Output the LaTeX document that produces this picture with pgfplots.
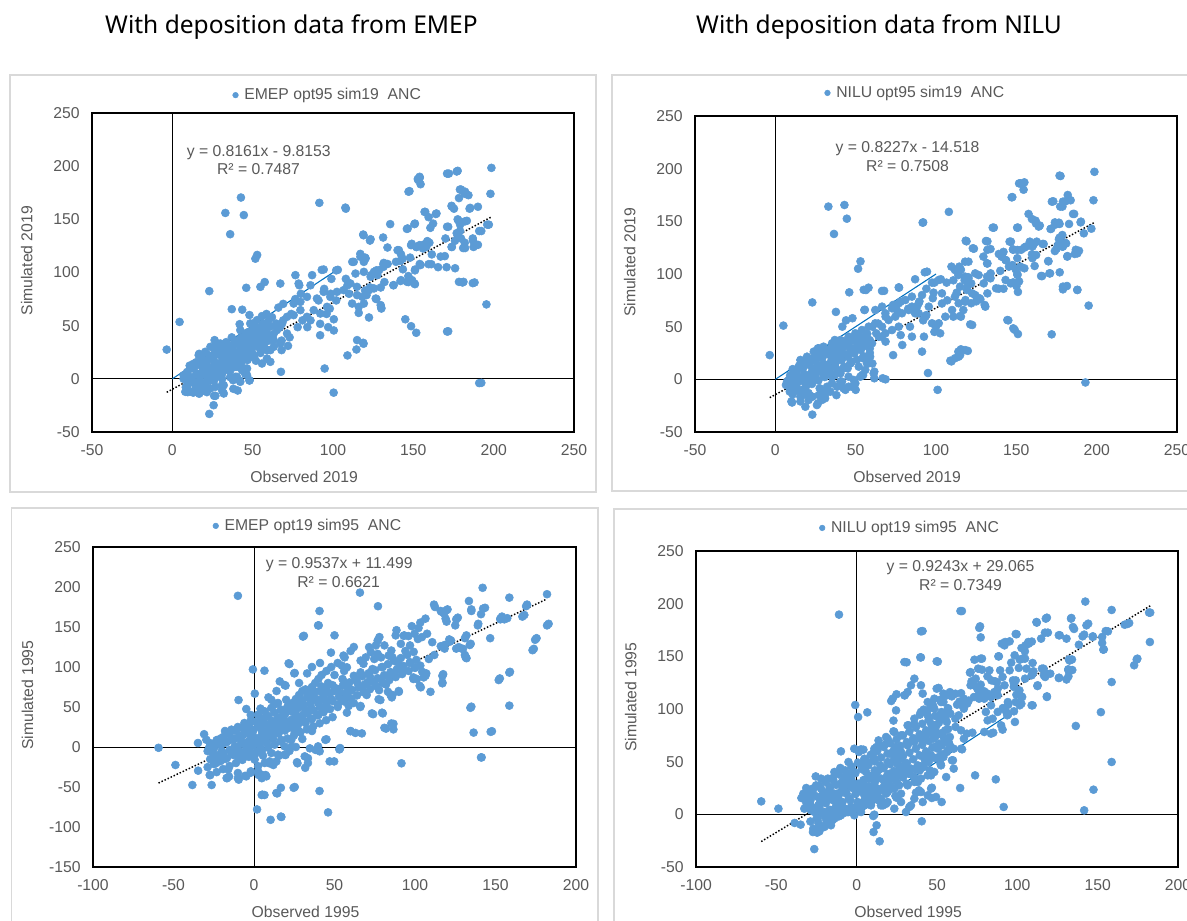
\documentclass[border=0pt]{standalone}
\usepackage{pgfplots}
\pgfplotsset{compat=1.18}
\usepackage{pgfplotstable}
\usepackage{fontspec}
\setmainfont{Liberation Sans}
\newfontfamily\titlefont{Noto Sans}
\definecolor{ptblue}{HTML}{5B9BD5}
\definecolor{oneblue}{HTML}{0070C0}
\definecolor{txtgray}{HTML}{595959}
\definecolor{boxgray}{HTML}{D9D9D9}

\pgfplotstableread{
x y
-3.5 27.5
4.5 53.5
23 82.5
23 -33
33 156
36 136
42.7 170.5
44.5 154
51.7 113
52.8 116.5
37 65.5
43.5 65
41.9 51.4
46 85.6
54.8 86.5
57.5 91
67.2 89.6
76.6 97.5
78.6 89.6
87 97.5
94.2 102.8
102 102
91.5 165.5
107.7 161
55.8 59
67.6 6.6
94.8 9.7
100.4 -13
198.6 198.4
198 174
197 145
192.3 139
195.5 70
192.3 -3.8
177.6 195.6
172.1 193
153.9 190
152.8 188
154.5 183
147.6 176.5
179.7 178
182.2 176
184.3 172.7
178.4 170
185.4 160.8
190.2 161.8
173.8 162.7
175.3 160
157.4 157
159.5 152
164.4 155.5
162.3 146
160.6 142
135.6 145.5
146.5 141.4
150.7 145.5
171.7 143
177.6 150
183.3 148.6
179.1 145
173.8 124
182.2 123
187.5 124
190.2 126
187.1 130
177.6 135
179.1 139
175.9 129.8
179.7 132
169.6 115.4
170.7 105
165.4 105
159.5 107.8
161.2 107.8
154.5 107
151.1 102.8
178.4 91.2
181.2 91.2
188.1 90.6
171.7 44.7
145 56
148.6 49.5
151.8 43.3
115 36.4
118.8 33.9
114.6 27.6
122.4 57.7
118.8 135.7
123.4 131.3
131.2 132.9
133.9 123.5
140.2 121
142.3 117.2
143.4 113
139.2 110
148.6 125.7
151.8 124
153.9 125.7
156 122.6
158.7 129.5
149.2 92.8
150.7 89.7
146.1 91.2
146.9 96.6
142.3 92.8
137.7 88.1
131.4 107.8
128.7 102.2
125.5 100.6
123.8 97.5
117.1 114.7
120.3 113.2
119.2 110
112.9 110
114 99
119.2 100.6
123.4 96
127.6 97.5
131.4 105.3
122.4 83.4
118.2 77.1
120.9 78.7
125.5 85
129.7 85.9
115 78.7
111.9 70.8
116 67.7
119.2 70.8
116 62
126.6 75.5
129.7 69.3
130.1 66.1
108 94
109 88
110 80
103 102.5
99 94
93 102.5
98.6 80
102 73.7
94.5 84.6
86 88
79 88
80 80
76.5 75
91 73.7
96 61
98 66
100.5 56
92 51.7
97 48.6
100.5 45.5
92 41
86 55
84 48.6
81 55
78 48.6
74 61
73 39
72 31
68 36
68 27
63 42
60 36
61 27
61 16
57 33
55 27
50 23.5
52 17
48 60
50 52
51.4 48.6
49 42
60 55
62 58
64.6 52
69 55
67 48.6
66 67
69 70.5
112 110
117 117.5
120 114
119 135
123 130
127 102
131.6 109
134 108
132 91
130 67
127 75
123 86
120 83
8.1 -12.2
9.1 -7.5
13.3 -12.2
14.3 -6
17.4 -12.2
20.5 -7.5
23.7 -9
26.8 -7.5
30.9 -6
32 -13.8
26.8 -16
25.7 -24.8
37.8 -1.3
40.2 1.9
42.3 -2.8
48.1 -1.3
45.4 5
43.4 8
36.1 8
39.2 1.9
30.9 5
23.7 1.9
19.5 5
11.2 1.9
7 3.4
15.4 5
13.3 11.3
17.4 14.4
21.6 11.3
16.4 22.3
23.7 19.1
26.3 28.5
26.3 36.4
29.9 33.2
34 31.7
23.7 30.1
20.5 25.4
27.8 23.8
32 20.7
36.1 22.3
37.1 14.4
40.2 23.8
42.3 27
44.4 33.2
46.5 27
49.6 36.4
47.5 44.2
50.6 49
42.3 45.8
45.4 42.6
48.5 52
52.7 55.2
54.8 45.8
56.8 52
58.9 42.6
61 49
63.1 36.4
65.1 45.8
68.3 52
71.4 58.3
75.5 59.9
79.7 64.6
83.8 58.3
88 64.6
92.1 61.4
96.3 67.7
75.5 70.8
79.7 72.4
83.8 77.1
90 75.5
94.2 81.8
98.3 77.1
102.5 81.8
106.6 83.4
110.8 89.7
114.9 86.5
54.8 33.2
58.9 27
63.1 30.1
67.2 33.2
71.4 42.6
55.8 14.4
58.9 19.1
48.5 20.7
43.4 20.7
40.2 11.3
46.5 9.7
39.2 0.3
46.5 3.4
40.7 -11
38 -9.4
32 -6
31 -11
26 -16
21.5 -12.5
19 -11
16.7 -14
13 -13
9.6 -12.5
8.4 -8
11 -3
7 0
16.7 -4.7
21.5 -1.6
26 -1.6
31 0
36 1.6
16.7 23.5
13 14
11 9.4
19 7.8
24 11
26 17
30 28
27.5 33
33.5 34.5
37 39
36 23.5
38 27
35 16
31 11
29 4.7
42 37.6
45.5 34.5
48 36
52.6 33
54 39
57 42
55 48.6
58.6 61
45.5 30
43 23.5
39.5 20
40.7 16
45.5 9.4
45.5 4.7
48 -1.6
42 -1.6
171 44.5
174 162
179 178
182 174
185 160
196 145
191 -4
187 90
180.6 90.6
176 104
167 115
170 132
171 143
178 149
182 148
191 139
187 132
189 126
182 128
181 123
174 124
177 137
158 124
160 128
161.5 117
156 126
152 124
149 127
148 114
141 121
142 111
143.5 103
151 102
154 108
147 91
151 89
142 92
137.6 88
147 176
151 146
146 141
153 187
154 189
157 157
164 155
171 193
177 195
119 33
109 22
108 160
10.8 -11.6
9.2 -5.6
10.8 0.4
9.2 6.4
10.8 12.4
14.8 -8.4
13.2 -2.4
14.8 3.6
13.2 9.6
14.8 15.6
18.8 -5.1
17.2 0.9
18.8 6.9
17.2 12.9
18.8 18.9
22.8 -1.9
21.2 4.1
22.8 10.1
21.2 16.1
22.8 22.1
26.8 1.4
25.2 7.4
26.8 13.4
25.2 19.4
26.8 25.4
30.8 4.7
29.2 10.7
30.8 16.7
29.2 22.7
30.8 28.7
34.8 7.9
33.2 13.9
34.8 19.9
33.2 25.9
34.8 31.9
38.8 11.2
37.2 17.2
38.8 23.2
37.2 29.2
38.8 35.2
42.8 14.5
41.2 20.5
42.8 26.5
41.2 32.5
42.8 38.5
46.8 17.7
45.2 23.7
46.8 29.7
45.2 35.7
46.8 41.7
50.8 21
49.2 27
50.8 33
49.2 39
50.8 45
54.8 24.3
53.2 30.3
54.8 36.3
53.2 42.3
54.8 48.3
58.8 27.5
57.2 33.5
58.8 39.5
57.2 45.5
58.8 51.5
}\pone

\pgfplotstableread{
x y
-3.5 23
5 51
23 73
23 -33.5
33 164
43 165.5
44.5 152.5
36.5 138
51.5 105
53 112
37.7 64
46 82.6
41.7 50
44 56
48 58
55 85
58 87
67.7 84
77 87
55.7 66
92 149
95 6
101 -10
108 159
109.6 17
115 23
115.5 28.5
119.8 27
122.5 51.6
119 131
123.6 124
132 131
136 144
132 123
145 56
149 47
151 43
147.5 173
151 144
152.5 186
155 187
154.5 180
157.6 157
162 150.6
164.6 146
172 42.7
177.5 193
173 169
178.7 164
180.6 169
182 175
183.8 170
186 157
198.6 197
198 170
196.7 143
192 138.6
190 149
193 -3
195 70
188 85
179 85.4
181.5 88.6
177 101.6
171 100.6
166 98
170 112
181.7 116.5
188 119.6
187 123
189 122
181 129
179 126
175 124
176.5 133
171.7 143
176.5 148.7
174.5 147
167 128.5
162.7 130.7
160 126
155 125
153 123
162.3 118
160 115
150.6 115
152.5 107
155 105.4
148 123
146.6 130.7
142 121
141 116.5
143.6 113
132 110
129.5 116.5
134 100.6
140 103
150.6 100
151.7 93
148 92
151 83
142 86
139 86
132 81.6
130.7 69
127 77
125 74
122.5 81.6
119.7 88.6
120 97
117.8 94
115.5 104
113 104.4
109.6 107
106.6 91.8
110.8 94
103.7 81.6
107 75
103.7 72
110.8 59.5
115.5 59.5
103 95
99 91.8
94 86
93 101.6
87 95
98 77
95.5 69
92 56
94 61
100 50
102.6 43.7
99 45
92.5 40.5
89.7 74
87 62.7
82.7 67
83.8 50
85 40.5
78 42
79 32.6
73.3 23
68.6 0
61.6 1
61.6 7.3
60.4 15
54.6 4
50 -10
47.5 -7
42.4 -8.5
40.5 -2
38 -15
31 -18
26.5 -22.8
23 -16.5
20.6 -13
17 -15
10 -21
13.6 -10
9 -11.7
7.3 -2
6.6 -5.4
17 16.8
26.5 29.4
30 31
37 37.3
33.5 27.8
38 24.7
43 31
52 35.8
54.6 32.6
58.8 29.4
60.4 50
64 53
68.6 59.5
73.3 70.6
78 73.7
75.6 65.8
62.8 43.7
66 40.5
68.6 35.8
54.6 20
59 21.5
57 15.2
45 10.4
47.5 16.8
37 4
33.5 10.4
30 5.7
24 8.9
21.8 2.5
19.4 -2
27.6 -8.5
31 -11.7
10.4 -22
9.3 -10
12.4 -5.4
15.6 -16.5
16.6 -10
19.7 -13.3
22.8 -16.5
25.9 -24.4
27 -15
29 -19.6
31.1 -13.3
32.2 -7
34.2 -11.7
35.3 -3.8
38.4 -7
8.3 -0.6
13.5 2.5
17.6 4.1
21.8 1
24.9 2.5
30.1 4.1
35.3 2.5
40.5 5.7
45.6 2.5
48.8 -0.6
52.9 2.5
11.4 8.9
16.6 12
20.7 15.2
24.9 10.4
29 13.6
33.2 8.9
37.3 12
42.5 10.4
46.7 15.2
51.9 12
56 8.9
15.6 18.4
19.7 21.5
23.9 26.3
27 29.4
31.1 24.7
35.3 21.5
39.4 27.8
43.6 32.6
47.7 29.4
51.9 34.2
56 37.3
60.2 34.2
64.3 40.5
68.5 43.7
72.6 46.8
76.8 50
35.3 34.2
40.5 37.3
45.6 40.5
49.8 43.7
53.9 46.8
58.1 50
62.2 53.2
66.4 50
70.5 56.3
74.7 59.5
78.8 62.7
83 65.8
62.2 65.8
66.4 69
68.5 62.7
72.6 67.4
76.8 72.2
80.9 75.3
85 69
89.2 62.7
93.4 59.5
97.5 53.2
101.7 53.2
105.8 59.5
110 65.8
114.1 72.2
118.3 75.3
58.1 15.2
61.2 5.7
54 4.1
49.8 -3.8
45.6 -7
41.5 -2.2
43.6 -10
15.6 -21
18.7 -26
20.7 -19.6
55.4 65.8
56.4 84.8
66.4 83.9
76.8 87.3
66.8 1
91.7 148.7
91.3 26.3
108.9 17.7
114.1 21.5
94.4 102.2
97.5 91.8
101.7 94.3
98.5 82.3
85 78.5
89.2 72.2
91.3 80
88.2 69
185.3 157
190.2 149.7
182.8 147.5
176.9 147.5
178.6 137
176.9 134.5
180.3 129.7
175.9 127.5
174 121.8
178.6 126
181.8 117
186.4 119
166.4 128.5
160.8 128.2
159.7 118.7
155.9 126
158.4 130.7
150.7 122.8
145.8 130.7
147.9 123.4
139.1 119
140.8 116.5
169.8 112.3
170.6 100.6
165.4 98.1
161.4 107.6
150.5 144
135.3 144
179 88
187.9 84.8
144.4 56.3
148.1 48.4
113.9 26.3
118.1 27.8
111.8 20
121.3 52.2
118.5 131.6
122.9 124.4
131.1 131.3
133.9 123.7
131.8 110
143.3 113.3
145.4 107
147.5 108.5
149.6 104.4
150.7 99
143.3 94.3
146.5 91.1
150.1 88.6
137.4 86.4
133.9 95.9
131.8 97.5
129.7 91.1
126.5 99
124.4 100.6
121.9 91.1
120.2 95.9
118.1 97.5
115 88
124.4 80
127.6 76
130.3 70.6
121.9 72.2
118.1 73.7
117 65.8
115 60.1
119.2 84.8
112.9 82.3
111.8 78.5
114.5 107
111.8 103.8
118.1 111.7
120.2 111.7
113.9 99
151.7 186
147.1 172.8
179 168.7
177.3 164
172.1 168.7
174 149
171.3 142.7
159.7 152.2
162.2 148
163.9 145
176.9 193.4
10.8 -14.3
9.2 -8.3
10.8 -2.3
9.2 3.7
10.8 9.7
14.8 -11
13.2 -5
14.8 1
13.2 7
14.8 13
18.8 -7.7
17.2 -1.7
18.8 4.3
17.2 10.3
18.8 16.3
22.8 -4.4
21.2 1.6
22.8 7.6
21.2 13.6
22.8 19.6
26.8 -1.1
25.2 4.9
26.8 10.9
25.2 16.9
26.8 22.9
30.8 2.2
29.2 8.2
30.8 14.2
29.2 20.2
30.8 26.2
34.8 5.5
33.2 11.5
34.8 17.5
33.2 23.5
34.8 29.5
38.8 8.8
37.2 14.8
38.8 20.8
37.2 26.8
38.8 32.8
42.8 12.1
41.2 18.1
42.8 24.1
41.2 30.1
42.8 36.1
46.8 15.3
45.2 21.3
46.8 27.3
45.2 33.3
46.8 39.3
50.8 18.6
49.2 24.6
50.8 30.6
49.2 36.6
50.8 42.6
54.8 21.9
53.2 27.9
54.8 33.9
53.2 39.9
58.8 25.2
57.2 31.2
58.8 37.2
57.2 43.2
}\ptwo

\pgfplotstableread{
x y
-59.3 -1
-48.8 -22.5
-38.3 -47.5
-26.3 -47.5
-34.7 -29.6
-27.5 -35
-10 189
-9.6 58.7
-4.8 47.5
-0.7 97
0.5 66.7
6.5 95.4
22 103.7
25 92
19.6 76.7
31 139
40.7 170
40.2 152
50 139.6
47.8 118
56.3 112
65.8 193
77 176
66 50
67 17
60 20
74 41
80 42
82 23
86.6 22
86.6 29
91.6 -20.4
88.5 146
93 139
104.5 94
107 92
99 85
103.6 74.6
109.6 69
90 69
85.6 62
86 65
78.5 58.7
77.7 71
117 79.6
117.5 91
112.4 175
119.6 171
116.5 169
133.5 182.5
142 199
158.6 186.7
182 191
169 176
166.7 163
182 152
173 121
174.6 134
146.7 136
153 159.6
155.5 159.6
142.3 173
141 166
139 152
135 170
125.6 159.6
119.6 156.7
131 136
134 127.5
125.6 123
129 123
131 115
132 111
121.5 131.7
118.4 127.5
118.4 123
152 83.7
158.6 93
158.6 51.7
134.4 49
136.4 18
147 19
141 -13
49.8 -18
45 9.6
53 -3
40.7 -55
46 -81.7
24.6 -51
31.8 -26
27 -20.4
33.5 -14
38.3 -3.7
34.7 -1.7
16.7 -51
14.4 -58
4.8 -60
6.5 -60
1.9 -78
10.3 -91
16.7 -87
4.8 -39
7.2 -35
2.9 -35
9.6 -20.4
12 -22.5
15.6 -11
19.6 -10
23.2 0.4
-1.9 -32
-5.5 -36
-10 -39
-16.7 -39
-15.5 -37
-31 16
-34.8 5
-29.6 9
-27.5 0.8
-25.5 -7.5
-26.5 -15.8
-23.4 -20
-22.4 9
-20.3 11
-18.2 5
-16 17.5
-14 21.7
-14.5 9
-12 0.8
-14 -7.5
-10 -11.7
-16 -28
-17 -38.8
-10 -32.5
-9.5 -40.8
-4.8 -36.7
-2 -30.4
2.5 -30.4
4.6 -34.6
7.7 -36.7
2.5 -24
6.6 -20
9.7 -18
13.9 -18
19 -9.6
14.9 -9.6
10.8 -7.5
5.6 -10.8
-3.7 0.8
-7.9 5
-10 -3.3
-5.8 -7.5
-1.7 -7.5
0.4 -15.8
-2 33
2.5 40.4
6.6 44.6
10.8 48.8
14.9 55
20 59
19 77.5
21.5 104.6
25.3 92.5
10.8 59
12.8 53
7.7 38.3
9.7 28
2.5 25.8
4.6 21.7
-0.6 19.6
-3.7 25.8
-6.8 15.4
-1.7 13.3
2.5 9
6.6 13.3
10.8 17.5
14.9 25.8
19 32
17 9
19 0.8
23.2 9
25.3 17.5
21.1 23.7
27.3 28
31.5 42.5
35.6 48.8
39.8 55
43.9 59
29.4 50.8
33.5 63.3
37.7 69.6
41.8 75.8
46 80
25.3 46.7
23.2 34
27.3 38.3
30.4 138
39.8 152
44.3 9
53.2 -2.5
25.3 -50
17 -87.5
13.9 -57.5
5.2 -59.6
31.5 -11.7
26.7 -19
33.5 -20
39.8 0.8
47 -18
40.8 -5.4
183 154
169.6 178
167.9 165
175.5 136
173.8 122.7
135 172
143.5 174
139.3 154
153 160.5
157.3 161
154 163
111.8 178
116 170
118 167
120.2 172
119 160.5
126.6 161.7
125 152
131.9 139.5
129.8 122.7
131.5 112
134.6 129
127.2 124.8
121.3 134.5
116 126
110.7 131
107.5 141.6
104.3 137.4
101.8 135
106.5 160.5
103.3 155.5
102.2 148.7
98 151
99.7 141.6
95.9 138.6
88 139.5
93.3 139.5
91.2 129
96.9 127
77.9 137.4
76.8 133
75.7 127
71.5 124.8
72.6 118.5
76.8 116.4
81 127
85.3 120.6
83.6 114.3
78.9 112
74.7 110
69.4 112
66.2 108
96.9 106
100.1 99.6
103.3 101.7
108.6 110
106.5 89
105.4 87
117 89
117 80.7
122.4 133
135 50.4
147.8 19.7
152.7 85.7
159 94
141.4 -13
85.3 29.4
81 24
89.9 70
79.5 42.9
73.2 42
66.2 51.3
77.4 59.7
84.9 64.7
83.2 69
89.5 106
91.6 97.5
87.4 93.3
83.2 89
78.9 84.9
74.7 80.7
66.2 93.3
62 89
57.7 99.6
55.6 114.3
54.6 101.7
64.1 80.7
59.9 72.3
67.3 74.4
70.5 80.7
73.6 97.5
57.7 63.9
58.8 51.3
57.7 42.9
59.9 19.7
63 17.6
53.5 68
54.6 59.7
56.7 76.5
53.5 -1.3
99 87
101.2 85
102.9 76.5
-20 -5
-18 -15
-22 -10
-12 10
-8 12
-5 5
-3 18
0 5
2 -5
4 0
5 30
8 20
8 5
12 30
12 10
15 35
16 20
18 40
20 45
22 50
24 55
26 60
28 65
30 58
30 70
32 72
34 68
36 75
38 80
40 85
42 90
44 70
45 95
48 100
50 90
52 105
55 85
56 95
38 60
34 45
30 35
26 40
24 25
28 20
32 30
36 35
40 40
44 50
48 60
50 70
52 50
-2 40
-6 30
-10 25
-18 20
-24 5
-28 -2
4 48
9 62
14 70
16 82
28 80
33 92
36 100
41 105
60 120
62 125
68 104
72 88
80 100
86 112
94 120
112 115
82 78
70 65
62 55
36 20
30 10
26 0
22 -5
-27.2 -35.2
-28.8 -25.2
-27.2 -15.2
-28.8 -5.2
-27.2 4.8
-23.2 -31.4
-24.8 -21.4
-23.2 -11.4
-24.8 -1.4
-23.2 8.6
-19.2 -27.6
-20.8 -17.6
-19.2 -7.6
-20.8 2.4
-19.2 12.4
-15.2 -23.8
-16.8 -13.8
-15.2 -3.8
-16.8 6.2
-15.2 16.2
-11.2 -20
-12.8 -10
-11.2 0
-12.8 10
-11.2 20
-7.2 -16.1
-8.8 -6.1
-7.2 3.9
-8.8 13.9
-7.2 23.9
-3.2 -12.3
-4.8 -2.3
-3.2 7.7
-4.8 17.7
-3.2 27.7
0.8 -8.5
-0.8 1.5
0.8 11.5
-0.8 21.5
0.8 31.5
4.8 -4.7
3.2 5.3
4.8 15.3
3.2 25.3
4.8 35.3
8.8 -0.9
7.2 9.1
8.8 19.1
7.2 29.1
8.8 39.1
12.8 2.9
11.2 12.9
12.8 22.9
11.2 32.9
12.8 42.9
16.8 6.8
15.2 16.8
16.8 26.8
15.2 36.8
16.8 46.8
20.8 10.6
19.2 20.6
20.8 30.6
19.2 40.6
20.8 50.6
24.8 14.4
23.2 24.4
24.8 34.4
23.2 44.4
24.8 54.4
28.8 18.2
27.2 28.2
28.8 38.2
27.2 48.2
28.8 58.2
32.8 22
31.2 32
32.8 42
31.2 52
32.8 62
36.8 25.8
35.2 35.8
36.8 45.8
35.2 55.8
36.8 65.8
40.8 29.6
39.2 39.6
40.8 49.6
39.2 59.6
40.8 69.6
44.8 33.5
43.2 43.5
44.8 53.5
43.2 63.5
44.8 73.5
48.8 37.3
47.2 47.3
48.8 57.3
47.2 67.3
48.8 77.3
52 53.1
52.8 63.1
51.2 73.1
56 56.9
56.8 66.9
55.2 76.9
60 60.7
60.8 70.7
59.2 80.7
64 64.5
64.8 74.5
63.2 84.5
68 68.4
68.8 78.4
67.2 88.4
72 72.2
72.8 82.2
71.2 92.2
76 76
76.8 86
75.2 96
80 79.8
80.8 89.8
79.2 99.8
84 83.6
84.8 93.6
83.2 103.6
88 87.4
88.8 97.4
87.2 107.4
92 91.2
92.8 101.2
91.2 111.2
96 95.1
96.8 105.1
95.2 115.1
100 98.9
100.8 108.9
99.2 118.9
}\pthree

\pgfplotstableread{
x y
-59.4 12.3
-48.7 5.4
-38.6 -8.2
-34.9 -9.8
-32 6
-26.4 -33
-27 -13.6
-24.6 -17.4
-23.9 -7.9
-17.3 -8.2
-19.2 -4.1
-25.5 36
-31.4 25
-34.4 15.5
-11 189.6
-9.8 59.8
-5.1 49.7
-0.9 103.8
0.9 92.4
6.6 96.8
4.2 61.4
1.4 59.2
10.3 -1.6
12.4 -10.4
10.5 -16.8
14.3 -25.6
24.1 17.4
24.8 15.8
16.4 8.5
21.5 107.6
24.8 114
30 113
22.9 89
22.9 78.8
31.1 144.3
40 149
41 174
50.5 145
65.5 193
76.8 178.5
77.2 168
76.3 177
90.3 162
92.4 163.6
99.5 171
142.3 202
158.7 194
182 191.5
182.5 163.6
168.5 180.7
166.8 180
174.3 147
172.7 141.5
158.7 125.6
152 97
136.4 83.9
158.7 49.7
147.4 23.4
141.6 3.8
91.5 7
86.6 33.2
73.7 37
64.4 25
52.9 11.7
46.8 25.3
46.8 15.5
40.5 -6.6
38.8 22.8
40 21.2
60.4 43.4
59.9 51.3
85 77.5
90.8 80.4
98.5 87.7
94.3 95
109.5 103.5
102.5 105
112.6 122.5
118.4 112
118.4 133.5
126 129.7
130.6 128
131.8 136.7
134 147
132.5 146
116.5 132
115.3 138.3
109.5 143.7
109 164
107 162
104.8 147.8
111.9 182.6
117.7 185.8
117.2 172.5
133.6 186.4
134.6 177.8
126.4 170
130.6 166.8
140.6 169
143 179.4
138.3 161
147 169
152.8 168.4
152.8 162.7
153.5 156.3
155 174
131.8 131
134.2 137
99 127.2
101.3 117.7
102.5 112
97.8 121
94.3 104
99 106.6
103 111.4
109.5 133.5
104.8 128.8
88.5 150
81.4 131
82.6 136.7
83.8 127.2
87.3 125.6
90.8 130.4
75.6 138.3
78 137.3
70.9 135
78 147.8
73.3 146.8
65 115
70.9 122.5
69.7 108
58 116
61.5 114.5
63.9 107
66.2 105
51 120
59.2 112
52.2 108.9
56.9 100.3
55.7 95.6
47.5 103.5
44 98.7
41.7 99.4
39.3 94.6
35.8 86
32.3 84.5
46.3 86
48.7 79.7
51 76.6
44 76.6
41.7 72.8
61.5 83
65 79.7
68.6 76.6
58 73.4
54.5 68.7
58 65.5
60.4 62.3
65 62.3
48.7 64
44 57.6
51 54.4
44 51.3
41.7 45
52.2 48
55.7 35.4
46.3 37
39.3 41.8
35.8 35.4
38.1 30.7
32.3 38.6
30 46.5
27.6 52.8
25.3 57.6
24.1 64
18.3 67
18.3 73.4
13.6 70.2
12.4 64
10 57.6
20.6 57.6
25.3 48
27.6 41.8
20.6 38.6
18.3 33.9
14.7 46.5
11.2 41.8
12.4 33.9
7.7 35.4
5.4 48
4.2 32.3
1.9 26
5.4 21.2
8.9 26
14.7 22.8
18.3 19.6
21.8 24.4
26.4 27.5
31.1 29.1
27.6 19.6
18.3 10
13.6 13.3
8.9 8.5
4.2 11.7
1.9 5.4
-0.5 7
-4 13.3
-6.3 19.6
-8.7 24.4
-9.8 29.1
-7.5 35.4
-4 38.6
-2.8 30.7
-0.5 24.4
-14.5 32.3
-16.8 26
-19.2 19.6
-20.4 14.9
-22.7 11.7
-12.2 19.6
-14.5 13.3
-9.8 10
-7.5 5.4
-5.1 2.2
-12.2 5.4
-28.6 8.5
-23.9 8.5
-26.2 2.2
-21.5 0.6
-16.8 2.2
-14.5 -0.9
-29.7 16.5
-27.4 19.6
-30.9 22.8
-33.2 19.6
-32.6 5.4
-31.5 11.7
-30.5 21.2
-27.4 24.4
-22.2 24.4
-21.2 18
-18 21.2
-17 14.9
-13.9 19.6
-11.8 14.9
-9.8 21.2
-6.6 27.5
-3.5 33.9
-28.4 3.8
-24.3 5.4
-20.1 2.2
-16 3.8
-11.8 2.2
-7.7 5.4
-3.5 7
0.6 5.4
4.8 8.5
8.9 11.7
13.1 14.9
-24.3 -4.1
-18 -2.5
-13.9 -4.1
-9.8 -0.9
-5.6 2.2
-1.5 -0.9
2.7 2.2
-18 -7.3
-16 -10.4
-20.1 -12
-23.2 -16.1
0.6 11.7
4.8 18
8.9 21.2
13.1 24.4
17.2 27.5
21.4 33.9
25.5 37
29.7 40.2
33.8 43.4
38 46.5
42.1 52.8
46.3 56
50.4 62.3
0.6 21.2
3.7 27.5
7.9 33.9
11 37
15.1 43.4
19.3 49.7
23.4 52.8
27.6 59.2
31.7 65.5
35.9 68.7
40 71.8
44.2 78.2
48.3 84.5
52.5 90.8
6.8 14.9
11 18
15.1 14.9
19.3 21.2
23.4 24.4
31.7 27.5
35.9 30.7
40 33.9
44.2 37
48.3 40.2
52.5 46.5
15.1 8.5
19.3 11.7
23.4 5.4
27.6 11.7
33.8 8.5
35.9 14.9
41.1 11.7
44.2 18
49.4 16.5
11 62.3
15.1 65.5
19.3 71.8
23.4 78.2
27.6 75
31.7 84.5
35.9 90.8
40 97.2
44.2 94
48.3 100.3
52.5 106.6
6.8 49.7
11 52.8
2.7 46.5
5.8 40.2
-1.5 40.2
-5.6 33.9
-10.2 44
-13.9 40.2
-18 33.9
-22.2 33.9
-25.3 27.5
22.4 109.8
29.7 113
31.7 116.1
33.8 122.5
35.9 128.8
40 122.5
41.1 114.6
44.2 106.6
48.3 109.8
24.5 98.7
29.7 144.6
40 173.7
39.6 149
49.8 145.3
46.3 24.4
36.9 20.6
32.8 7
30.7 2.2
11 -0.3
-1.5 62.3
2.7 61.7
64.6 193
112.1 182
118.4 186.7
99 171.2
92 160.4
105.1 160.4
106.8 163.6
114.8 166.8
119 172.5
125.8 170
133.4 185.8
135.3 176
141.6 170.6
144.1 181
146.9 168.4
153.8 156.6
156.4 173.7
132.1 147
131.7 137.7
125.8 129.4
118.4 111.4
112.5 121.8
117.3 130.4
120.5 133.5
116.3 138.3
110 135.8
108.9 132
102.6 157.9
104.7 154.7
103.2 147.8
98.3 151
96.2 144
88.2 150
95.2 164.2
101.5 146.8
100.9 139
105.7 138.3
95.2 136.7
89.3 136.7
92 122.5
87.8 119.3
86.1 126.3
97.3 127.2
97.9 124
94.1 106.6
99.4 113.6
101.5 103.5
108.9 103.5
77.2 147.8
70.5 134.5
74.1 128.8
71.5 126.3
73 122.5
77.2 123.1
79.4 116.8
75.1 119.3
76.2 114.6
73 111.4
76.2 109.8
79.4 109.8
81.5 114.6
83.6 111.4
85.7 116.1
87.8 113
66.7 109.8
68.8 105.1
65.6 103.5
62.5 104.1
59.3 114.6
56.1 113
54 106.6
49.8 119.3
54 114.6
46.7 103.5
51.9 94
49.8 84.5
45.6 78.2
47.7 71.8
66.7 100.3
63.5 94
61.4 90.8
58.3 95.6
56.1 87.7
55.1 79.7
54 73.4
57.2 68.7
53 65.5
56.1 59.2
83.6 103.5
80.4 97.2
81.5 89.2
84.6 90.8
87.8 97.2
91 100.9
93.1 97.2
89.9 84.5
83.6 76.6
79.4 78.2
72 77.5
66.7 71.8
65.6 61.7
59.3 51.3
54 54.4
45.6 41.8
97.9 97.8
93.7 94
182.7 191.5
169.6 181.6
174.7 147.8
-27.2 -16.8
-28.8 -6.8
-27.2 3.2
-28.8 13.2
-27.2 23.2
-23.2 -13.1
-24.8 -3.1
-23.2 6.9
-24.8 16.9
-23.2 26.9
-19.2 -9.4
-20.8 0.6
-19.2 10.6
-20.8 20.6
-19.2 30.6
-15.2 -5.7
-16.8 4.3
-15.2 14.3
-16.8 24.3
-15.2 34.3
-11.2 -2
-12.8 8
-11.2 18
-12.8 28
-11.2 38
-7.2 1.7
-8.8 11.7
-7.2 21.7
-8.8 31.7
-7.2 41.7
-3.2 5.4
-4.8 15.4
-3.2 25.4
-4.8 35.4
-3.2 45.4
0.8 9.1
-0.8 19.1
0.8 29.1
-0.8 39.1
0.8 49.1
4.8 12.8
3.2 22.8
4.8 32.8
3.2 42.8
4.8 52.8
8.8 16.5
7.2 26.5
8.8 36.5
7.2 46.5
8.8 56.5
12.8 20.2
11.2 30.2
12.8 40.2
11.2 50.2
12.8 60.2
16.8 23.9
15.2 33.9
16.8 43.9
15.2 53.9
16.8 63.9
20.8 27.6
19.2 37.6
20.8 47.6
19.2 57.6
20.8 67.6
24.8 31.2
23.2 41.2
24.8 51.2
23.2 61.2
24.8 71.2
28.8 35
27.2 45
28.8 55
27.2 65
28.8 75
32.8 38.6
31.2 48.6
32.8 58.6
31.2 68.6
32.8 78.6
36.8 42.3
35.2 52.3
36.8 62.3
35.2 72.3
36.8 82.3
40.8 46
39.2 56
40.8 66
39.2 76
40.8 86
44.8 49.7
43.2 59.7
44.8 69.7
43.2 79.7
44.8 89.7
48.8 53.4
47.2 63.4
48.8 73.4
47.2 83.4
48.8 93.4
52.8 57.1
51.2 67.1
52.8 77.1
51.2 87.1
52.8 97.1
56.8 60.8
55.2 70.8
56.8 80.8
55.2 90.8
56.8 100.8
}\pfour

\pgfplotsset{
  panel/.style={
    scale only axis,
    axis line style={black, line width=0.95pt},
    major tick length=0pt,
    tick style={draw=none},
    /pgf/number format/assume math mode=true,
    ticklabel style={font=\fontsize{11.8}{14}\selectfont, text=txtgray},
    yticklabel style={xshift=-5.8pt},
    xticklabel style={yshift=-5.9pt},
    every axis x label/.style={at={(axis description cs:0.44,-0.141)}, anchor=center, font=\fontsize{11.8}{14}\selectfont, text=txtgray},
    every axis y label/.style={at={(axis description cs:-0.1355,0.537)}, anchor=center, rotate=90, font=\fontsize{11.8}{14}\selectfont, text=txtgray},
    legend style={draw=none, fill=none, font=\fontsize{11.8}{14}\selectfont, text=txtgray, anchor=center,
      /tikz/every odd column/.append style={column sep=2.5pt}},
    legend image code/.code={\draw[#1, mark size=2.1pt] plot coordinates {(0pt,0pt)};},
    enlargelimits=false,
    clip=false,
  },
  pts/.style={only marks, mark=*, mark size=3pt, color=ptblue, mark options={fill=ptblue, draw=none}},
  zero/.style={black, line width=0.75pt, forget plot},
  oneline/.style={oneblue, line width=0.8pt, forget plot},
  trend/.style={black, line width=1.1pt, dash pattern=on 1.1pt off 1.4pt, forget plot},
}
\tikzset{eqtext/.style={font=\fontsize{11.8}{14}\selectfont, text=txtgray, anchor=base}}

\begin{document}
\begin{tikzpicture}
\useasboundingbox (0,0) rectangle (890.25pt,690pt);
\fill[white] (0,0) rectangle (890.25pt,690pt);
% panel frames
\draw[boxgray, line width=0.8pt] (7.5pt,321pt) rectangle (447pt,633.75pt);
\draw[boxgray, line width=0.8pt] (459pt,321.75pt) rectangle (895pt,633.75pt);
\draw[boxgray, line width=0.8pt] (8.6pt,-10pt) rectangle (448.5pt,309pt);
\draw[boxgray, line width=0.8pt] (460.5pt,-10pt) rectangle (895pt,308.25pt);
% column titles
\node[font=\titlefont\fontsize{18.4}{22}\selectfont, anchor=base] at (218.6pt,664.5pt) {With deposition data from EMEP};
\node[font=\titlefont\fontsize{18.4}{22}\selectfont, anchor=base] at (659.25pt,664.5pt) {With deposition data from NILU};

% Panel 1
\begin{axis}[panel, at={(69pt,366pt)}, anchor=south west, width=361.5pt, height=239.25pt,
  xmin=-50, xmax=250, ymin=-50, ymax=250,
  xtick={-50,0,50,100,150,200,250}, ytick={-50,0,50,100,150,200,250},
  xlabel={Observed 2019}, ylabel={Simulated 2019},
  legend style={at={(0.49,1.056)}}]
\addplot[zero] coordinates {(-50,0) (250,0)};
\addplot[zero] coordinates {(0,-50) (0,250)};
\addplot[pts] table[x=x,y=y] {\pone};
\addlegendentry{EMEP opt95 sim19\ \ ANC}
\addplot[oneline] coordinates {(0,0) (100,100)};
\addplot[trend] coordinates {(-3.5,-12.67) (198.6,152.26)};
\node[eqtext] at (axis cs:53.8,209.3) {y = 0.8161x - 9.8153};
\node[eqtext] at (axis cs:53.6,192.1) {R² = 0.7487};
\end{axis}

% Panel 2
\begin{axis}[panel, at={(521.25pt,366pt)}, anchor=south west, width=361.5pt, height=237pt,
  xmin=-50, xmax=250, ymin=-50, ymax=250,
  xtick={-50,0,50,100,150,200,250}, ytick={-50,0,50,100,150,200,250},
  xlabel={Observed 2019}, ylabel={Simulated 2019},
  legend style={at={(0.458,1.073)}}]
\addplot[zero] coordinates {(-50,0) (250,0)};
\addplot[zero] coordinates {(0,-50) (0,250)};
\addplot[pts] table[x=x,y=y] {\ptwo};
\addlegendentry{NILU opt95 sim19\ \ ANC}
\addplot[oneline] coordinates {(0,0) (100,100)};
\addplot[trend] coordinates {(-3.5,-17.40) (198.6,148.87)};
\node[eqtext] at (axis cs:82.3,215.4) {y = 0.8227x - 14.518};
\node[eqtext] at (axis cs:82.3,197.3) {R² = 0.7508};
\end{axis}

% Panel 3
\begin{axis}[panel, at={(69.75pt,39.75pt)}, anchor=south west, width=362.25pt, height=240pt,
  xmin=-100, xmax=200, ymin=-150, ymax=250,
  xtick={-100,-50,0,50,100,150,200}, ytick={-150,-100,-50,0,50,100,150,200,250},
  xlabel={Observed 1995}, ylabel={Simulated 1995},
  legend style={at={(0.446,1.066)}}]
\addplot[zero] coordinates {(-100,0) (200,0)};
\addplot[zero] coordinates {(0,-150) (0,250)};
\addplot[oneline] coordinates {(0,0) (100,100)};
\addplot[pts] table[x=x,y=y] {\pthree};
\addlegendentry{EMEP opt19 sim95\ \ ANC}
\addplot[trend] coordinates {(-59.3,-45.06) (182,185.07)};
\node[eqtext] at (axis cs:52.9,223.5) {y = 0.9537x + 11.499};
\node[eqtext] at (axis cs:52.6,199.8) {R² = 0.6621};
\end{axis}

% Panel 4
\begin{axis}[panel, at={(522pt,39.75pt)}, anchor=south west, width=361.5pt, height=237pt,
  xmin=-100, xmax=200, ymin=-50, ymax=250,
  xtick={-100,-50,0,50,100,150,200}, ytick={-50,0,50,100,150,200,250},
  xlabel={Observed 1995}, ylabel={Simulated 1995},
  legend style={at={(0.445,1.073)}}]
\addplot[zero] coordinates {(-100,0) (200,0)};
\addplot[zero] coordinates {(0,-50) (0,250)};
\addplot[oneline] coordinates {(0,0) (100,100)};
\addplot[pts] table[x=x,y=y] {\pfour};
\addlegendentry{NILU opt19 sim95\ \ ANC}
\addplot[trend] coordinates {(-59.4,-25.84) (182.7,197.93)};
\node[eqtext] at (axis cs:64.6,230.3) {y = 0.9243x + 29.065};
\node[eqtext] at (axis cs:64.6,212.3) {R² = 0.7349};
\end{axis}
\end{tikzpicture}
\end{document}
